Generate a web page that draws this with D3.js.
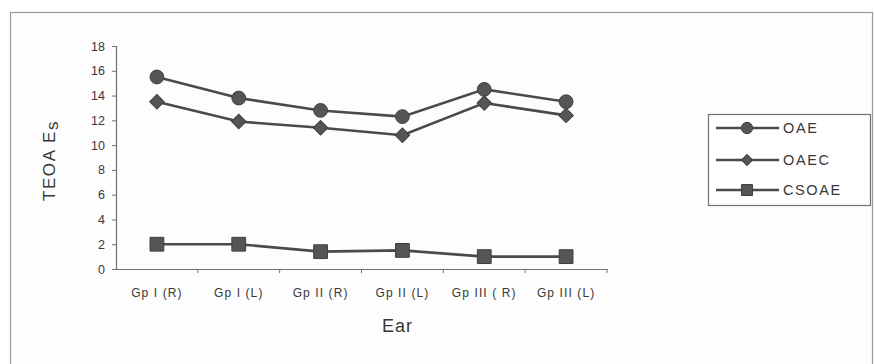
<!DOCTYPE html>
<html>
<head>
<meta charset="utf-8">
<script src="https://cdn.jsdelivr.net/npm/d3@7"></script>
<style>
  html, body { margin: 0; padding: 0; background: #ffffff; }
  svg { display: block; font-family: Arial, "Liberation Sans", sans-serif; }
</style>
</head>
<body>
<svg id="chart" width="874" height="364"></svg>
<script>
// Ear groups on the x axis
const categories = ["Gp I (R)", "Gp I (L)", "Gp II (R)", "Gp II (L)", "Gp III ( R)", "Gp III  (L)"];
// TEOAE values per series
const oae   = [15.5, 13.8, 12.8, 12.3, 14.5, 13.5];
const oaec  = [13.5, 11.9, 11.4, 10.8, 13.4, 12.4];
const csoae = [2.0, 2.0, 1.4, 1.5, 1.0, 1.0];
const seriesNames = ["OAE", "OAEC", "CSOAE"];
const yTicks = [0, 2, 4, 6, 8, 10, 12, 14, 16, 18];

// diamond = square turned by 45 degrees
const series = [
  { name: seriesNames[0], values: oae,   symbol: d3.symbolCircle, size: 150, rot: 0 },
  { name: seriesNames[1], values: oaec,  symbol: d3.symbolSquare, size: 105, rot: 45 },
  { name: seriesNames[2], values: csoae, symbol: d3.symbolSquare, size: 190, rot: 0 }
];

const svg = d3.select("#chart");
const ink = "#4a4a4a";
const textInk = "#383838";

// outer chart frame
svg.append("rect")
  .attr("x", 10.5).attr("y", 12.5)
  .attr("width", 862).attr("height", 360)
  .attr("fill", "#fdfdfd").attr("stroke", "#999999").attr("stroke-width", 1.2);

const plot = { left: 116, right: 607, top: 46, bottom: 269 };

const x = d3.scaleBand().domain(categories).range([plot.left, plot.right]);
const y = d3.scaleLinear().domain([0, 18]).range([plot.bottom, plot.top]);

// y axis
const yAxis = svg.append("g")
  .attr("transform", `translate(${plot.left},0)`)
  .call(d3.axisLeft(y).tickValues(yTicks).tickSize(4).tickPadding(7));
yAxis.select(".domain").attr("stroke", "#707070").attr("stroke-width", 1.2);
yAxis.selectAll(".tick line").attr("stroke", "#707070");
yAxis.selectAll(".tick text")
  .attr("fill", textInk).attr("font-size", 12.5);

// x axis
const xAxis = svg.append("g")
  .attr("transform", `translate(0,${plot.bottom})`)
  .call(d3.axisBottom(x).tickSize(0).tickPadding(19));
xAxis.select(".domain").attr("stroke", "#707070").attr("stroke-width", 1.2);
xAxis.selectAll(".tick text")
  .attr("fill", textInk).attr("font-size", 12)
  .attr("letter-spacing", 1.1)
  .attr("font-family", "'Liberation Sans Narrow', Arial, sans-serif");
// category separators on the x axis
xAxis.selectAll(".sep")
  .data(categories.slice(1).concat(["end"]))
  .enter().append("line")
  .attr("x1", (d, i) => plot.left + x.step() * (i + 1))
  .attr("x2", (d, i) => plot.left + x.step() * (i + 1))
  .attr("y1", 0).attr("y2", 4)
  .attr("stroke", "#707070");

// axis titles
const yTitle = svg.append("text")
  .attr("transform", `translate(55,${(plot.top + plot.bottom) / 2 + 3}) rotate(-90)`)
  .attr("text-anchor", "middle")
  .attr("fill", textInk).attr("font-size", 17)
  .attr("letter-spacing", 1.6)
  .text("TEOA E");
yTitle.append("tspan").attr("dy", 3).text("s");

svg.append("text")
  .attr("x", (plot.left + plot.right) / 2 + 36).attr("y", 332)
  .attr("text-anchor", "middle")
  .attr("fill", textInk).attr("font-size", 18)
  .attr("letter-spacing", 1)
  .text("Ear");

// lines and markers
const line = d3.line()
  .x((d, i) => x(categories[i]) + x.bandwidth() / 2)
  .y(d => y(d));

series.forEach(s => {
  const g = svg.append("g");
  g.append("path")
    .attr("d", line(s.values))
    .attr("fill", "none").attr("stroke", ink).attr("stroke-width", 2.6);
  g.selectAll("path.m")
    .data(s.values).enter().append("path")
    .attr("class", "m")
    .attr("d", d3.symbol().type(s.symbol).size(s.size))
    .attr("transform", (d, i) =>
      `translate(${x(categories[i]) + x.bandwidth() / 2},${y(d)}) rotate(${s.rot})`)
    .attr("fill", "#555555").attr("stroke", "#3f3f3f").attr("stroke-width", 1);
});

// legend
const legend = svg.append("g");
legend.append("rect")
  .attr("x", 708.5).attr("y", 114.5)
  .attr("width", 162).attr("height", 91)
  .attr("fill", "#ffffff").attr("stroke", "#707070").attr("stroke-width", 1.2);
const legendRows = [128, 160, 190];
const legendSizes = [100, 60, 120];
series.forEach((s, i) => {
  const ly = legendRows[i];
  legend.append("line")
    .attr("x1", 716).attr("x2", 779).attr("y1", ly).attr("y2", ly)
    .attr("stroke", ink).attr("stroke-width", 2.6);
  legend.append("path")
    .attr("d", d3.symbol().type(s.symbol).size(legendSizes[i]))
    .attr("transform", `translate(747,${ly}) rotate(${s.rot})`)
    .attr("fill", "#555555").attr("stroke", "#3f3f3f");
  legend.append("text")
    .attr("x", 783).attr("y", ly + 5)
    .attr("fill", textInk).attr("font-size", 14.5)
    .attr("letter-spacing", 1.6)
    .text(s.name);
});
</script>
</body>
</html>
